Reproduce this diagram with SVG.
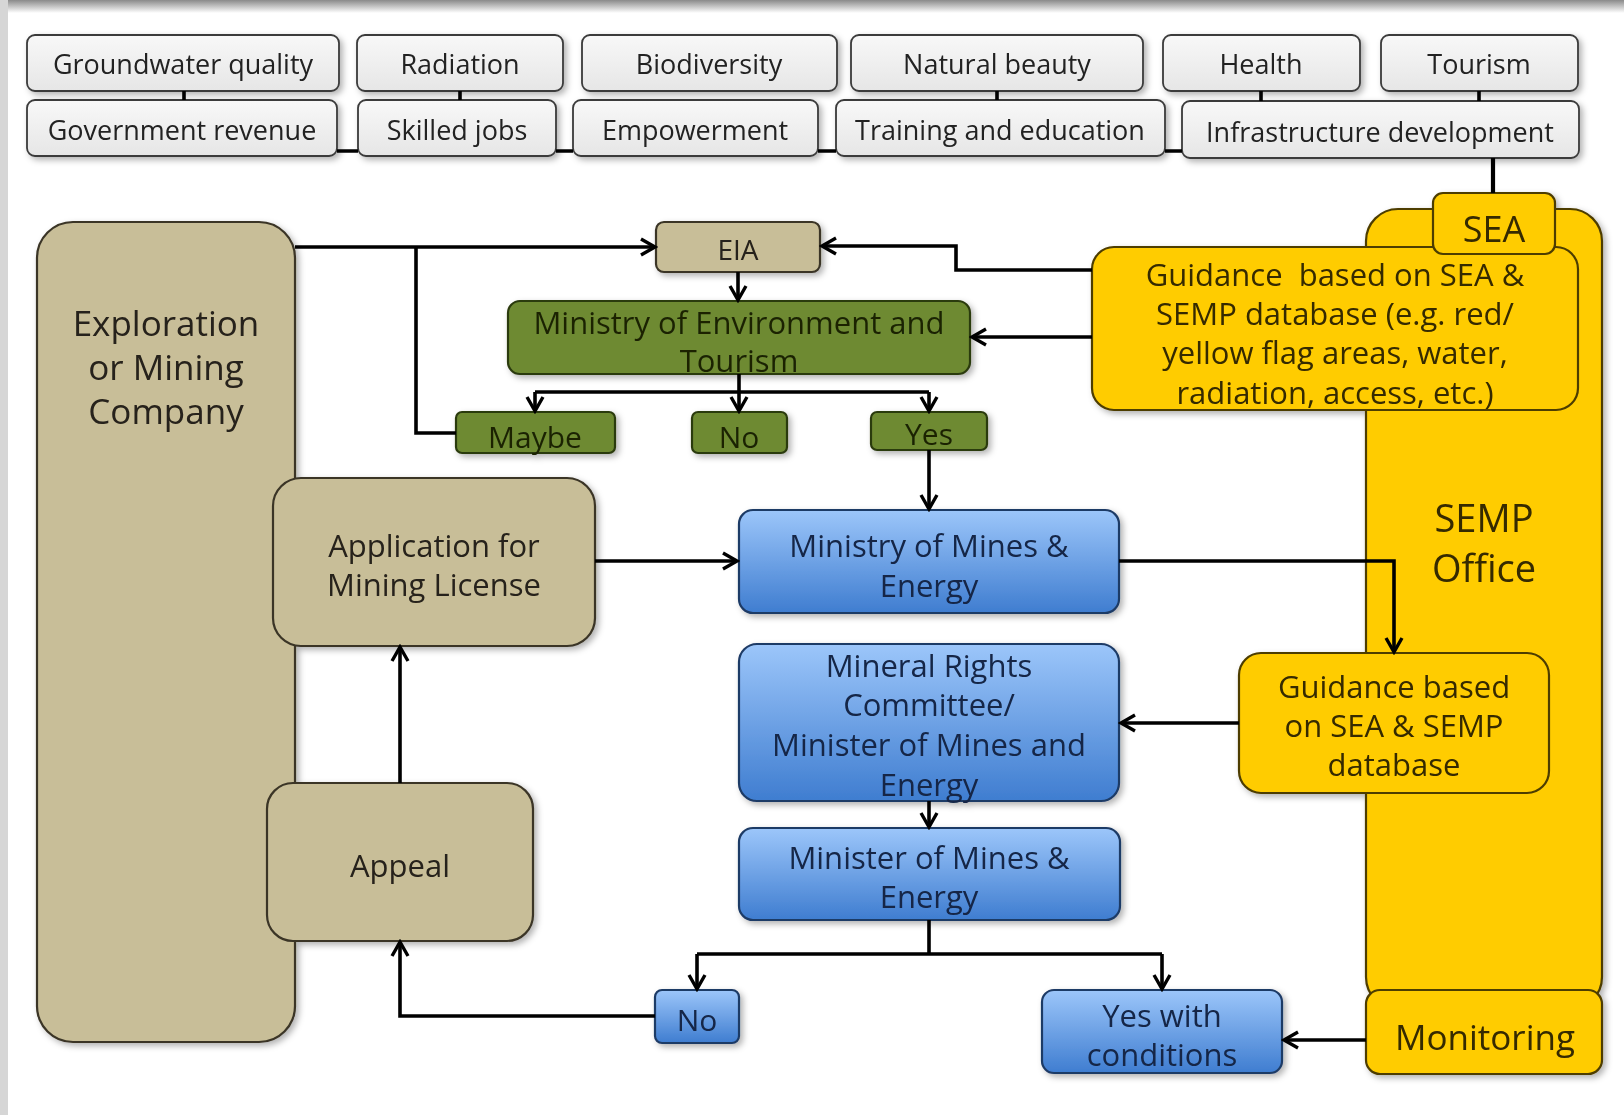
<svg xmlns="http://www.w3.org/2000/svg" width="1624" height="1115" viewBox="0 0 1624 1115">
<defs>
<linearGradient id="gTopBand" x1="0" y1="0" x2="0" y2="1">
<stop offset="0" stop-color="#8a8a8a"/><stop offset="1" stop-color="#ffffff"/>
</linearGradient>
<linearGradient id="gGray" x1="0" y1="0" x2="0" y2="1">
<stop offset="0" stop-color="#f8f8f8"/><stop offset="1" stop-color="#e6e6e6"/>
</linearGradient>
<linearGradient id="gBlue" x1="0" y1="0" x2="0" y2="1">
<stop offset="0" stop-color="#9cc6fa"/><stop offset="1" stop-color="#3f7dd0"/>
</linearGradient>
<filter id="sh" x="-10%" y="-10%" width="130%" height="130%">
<feDropShadow dx="3" dy="3" stdDeviation="3" flood-color="#000" flood-opacity="0.3"/>
</filter>
<marker id="arr" viewBox="0 0 20 20" refX="17" refY="10" markerWidth="20" markerHeight="20" markerUnits="userSpaceOnUse" orient="auto">
<path d="M3,2 L17,10 L3,18" fill="none" stroke="#000" stroke-width="3.4"/>
</marker>
<style>
text{font-family:"Open Sans","DejaVu Sans",sans-serif;text-anchor:middle}
.top{fill:url(#gGray);stroke:#3a3a3a;stroke-width:1.8}
.tan{fill:#c8be98;stroke:#3a3426;stroke-width:2.2}
.green{fill:#6e8a33;stroke:#2c3a10;stroke-width:2.2}
.blue{fill:url(#gBlue);stroke:#1f3b66;stroke-width:2.2}
.yel{fill:#ffcc00;stroke:#4d3d00;stroke-width:2.2}
.tt{font-size:27px;fill:#222}
.ttan{font-size:31px;fill:#27221a}
.tgreen{font-size:30px;fill:#1a2406}
.tblue{font-size:31px;fill:#132546}
.tyel{font-size:31px;fill:#362900}
.ln{fill:none;stroke:#000;stroke-width:3.6}
.la{fill:none;stroke:#000;stroke-width:3.6;marker-end:url(#arr)}
</style>
</defs>
<rect x="0" y="0" width="1624" height="1115" fill="#ffffff"/>
<rect x="0" y="0" width="1624" height="13" fill="url(#gTopBand)"/>
<rect x="0" y="0" width="8" height="1115" fill="#d6d6d6"/>

<g id="top-row" filter="url(#sh)">
<g id="n-groundwater"><rect class="top" x="27" y="35" width="312" height="56" rx="8"/><text class="tt" x="183" y="74">Groundwater quality</text></g>
<g id="n-radiation"><rect class="top" x="357" y="35" width="206" height="56" rx="8"/><text class="tt" x="460" y="74">Radiation</text></g>
<g id="n-biodiversity"><rect class="top" x="582" y="35" width="255" height="56" rx="8"/><text class="tt" x="709" y="74">Biodiversity</text></g>
<g id="n-natural"><rect class="top" x="851" y="35" width="292" height="56" rx="8"/><text class="tt" x="997" y="74">Natural beauty</text></g>
<g id="n-health"><rect class="top" x="1163" y="35" width="197" height="56" rx="8"/><text class="tt" x="1261" y="74">Health</text></g>
<g id="n-tourism"><rect class="top" x="1381" y="35" width="197" height="56" rx="8"/><text class="tt" x="1479" y="74">Tourism</text></g>
<g id="n-govrev"><rect class="top" x="27" y="100" width="310" height="56" rx="8"/><text class="tt" x="182" y="140">Government revenue</text></g>
<g id="n-skilled"><rect class="top" x="358" y="100" width="198" height="56" rx="8"/><text class="tt" x="457" y="140">Skilled jobs</text></g>
<g id="n-empower"><rect class="top" x="573" y="100" width="245" height="56" rx="8"/><text class="tt" x="695" y="140">Empowerment</text></g>
<g id="n-training"><rect class="top" x="836" y="100" width="329" height="56" rx="8"/><text class="tt" x="1000" y="140">Training and education</text></g>
<g id="n-infra"><rect class="top" x="1182" y="101" width="397" height="57" rx="8"/><text class="tt" x="1380" y="142">Infrastructure development</text></g>
</g>

<g id="nodes" filter="url(#sh)">
<g id="n-company"><rect class="tan" x="37" y="222" width="258" height="820" rx="36"/>
<text class="ttan" style="font-size:35px" x="166" y="336">Exploration</text>
<text class="ttan" style="font-size:35px" x="166" y="380">or Mining</text>
<text class="ttan" style="font-size:35px" x="166" y="424">Company</text></g>
<g id="n-eia"><rect class="tan" x="656" y="222" width="164" height="50" rx="8"/><text class="ttan" style="font-size:28px" x="738" y="260">EIA</text></g>
<g id="n-met"><rect class="green" x="508" y="301" width="462" height="73" rx="12"/>
<text class="tgreen" style="font-size:31px" x="739" y="334">Ministry of Environment and</text>
<text class="tgreen" style="font-size:31px" x="739" y="372">Tourism</text></g>
<g id="n-maybe"><rect class="green" x="456" y="412" width="159" height="41" rx="6"/><text class="tgreen" x="535" y="448">Maybe</text></g>
<g id="n-no1"><rect class="green" x="692" y="412" width="95" height="41" rx="6"/><text class="tgreen" x="739" y="448">No</text></g>
<g id="n-yes"><rect class="green" x="871" y="412" width="116" height="38" rx="6"/><text class="tgreen" x="929" y="445">Yes</text></g>
<g id="n-app"><rect class="tan" x="273" y="478" width="322" height="168" rx="28"/>
<text class="ttan" x="434" y="557">Application for</text>
<text class="ttan" x="434" y="596">Mining License</text></g>
<g id="n-appeal"><rect class="tan" x="267" y="783" width="266" height="158" rx="26"/><text class="ttan" x="400" y="877">Appeal</text></g>
<g id="n-mme"><rect class="blue" x="739" y="510" width="380" height="103" rx="14"/>
<text class="tblue" x="929" y="557">Ministry of Mines &amp;</text>
<text class="tblue" x="929" y="597">Energy</text></g>
<g id="n-mrc"><rect class="blue" x="739" y="644" width="380" height="157" rx="18"/>
<text class="tblue" x="929" y="677">Mineral Rights</text>
<text class="tblue" x="929" y="716">Committee/</text>
<text class="tblue" x="929" y="756">Minister of Mines and</text>
<text class="tblue" x="929" y="796">Energy</text></g>
<g id="n-minister"><rect class="blue" x="739" y="828" width="381" height="92" rx="14"/>
<text class="tblue" x="929" y="869">Minister of Mines &amp;</text>
<text class="tblue" x="929" y="908">Energy</text></g>
<g id="n-no2"><rect class="blue" x="655" y="990" width="84" height="53" rx="7"/><text class="tblue" style="font-size:30px" x="697" y="1031">No</text></g>
<g id="n-yescond"><rect class="blue" x="1042" y="990" width="240" height="83" rx="12"/>
<text class="tblue" x="1162" y="1027">Yes with</text>
<text class="tblue" x="1162" y="1066">conditions</text></g>
<g id="n-semp"><rect class="yel" x="1366" y="209" width="236" height="800" rx="32"/>
<text class="tyel" style="font-size:38px" x="1484" y="532">SEMP</text>
<text class="tyel" style="font-size:38px" x="1484" y="582">Office</text></g>
<g id="n-guid1"><rect class="yel" x="1092" y="247" width="486" height="163" rx="22"/>
<text class="tyel" x="1335" y="286" xml:space="preserve">Guidance  based on SEA &amp;</text>
<text class="tyel" x="1335" y="325">SEMP database (e.g. red/</text>
<text class="tyel" x="1335" y="364">yellow flag areas, water,</text>
<text class="tyel" x="1335" y="404">radiation, access, etc.)</text></g>
<g id="n-sea"><rect class="yel" x="1433" y="193" width="122" height="61" rx="10"/><text class="tyel" style="font-size:36px" x="1494" y="242">SEA</text></g>
<g id="n-guid2"><rect class="yel" x="1239" y="653" width="310" height="140" rx="22"/>
<text class="tyel" x="1394" y="698">Guidance based</text>
<text class="tyel" x="1394" y="737">on SEA &amp; SEMP</text>
<text class="tyel" x="1394" y="776">database</text></g>
<g id="n-monitoring"><rect class="yel" x="1366" y="990" width="236" height="84" rx="14"/><text class="tyel" style="font-size:35px" x="1485" y="1050">Monitoring</text></g>
</g>

<g id="connectors">
<path class="ln" d="M184,91 V100 M460,91 V100 M997,91 V100 M1261,91 V101 M1479,91 V101"/>
<path class="ln" d="M337,151 H358 M556,151 H573 M818,151 H836 M1165,151 H1182"/>
<path class="ln" style="stroke-width:4.2" d="M1493,158 V193"/>
<path class="la" d="M295,247 H655"/>
<path class="ln" d="M456,433 H416 V247"/>
<path class="la" d="M1092,270 H956 V246 H822"/>
<path class="la" d="M1092,337 H972"/>
<path class="la" d="M738,272 V300"/>
<path class="la" d="M739,374 V411"/>
<path class="ln" d="M535,392 H929"/>
<path class="la" d="M535,392 V411"/>
<path class="la" d="M929,392 V411"/>
<path class="la" d="M929,450 V509"/>
<path class="la" d="M595,561 H737"/>
<path class="la" d="M1119,561 H1394 V652"/>
<path class="la" d="M1239,723 H1121"/>
<path class="la" d="M929,801 V827"/>
<path class="ln" d="M929,920 V954 M697,954 H1162"/>
<path class="la" d="M697,954 V989"/>
<path class="la" d="M1162,954 V989"/>
<path class="la" d="M655,1016 H400 V942"/>
<path class="la" d="M400,783 V647"/>
<path class="la" d="M1366,1040 H1284"/>
</g>
</svg>
